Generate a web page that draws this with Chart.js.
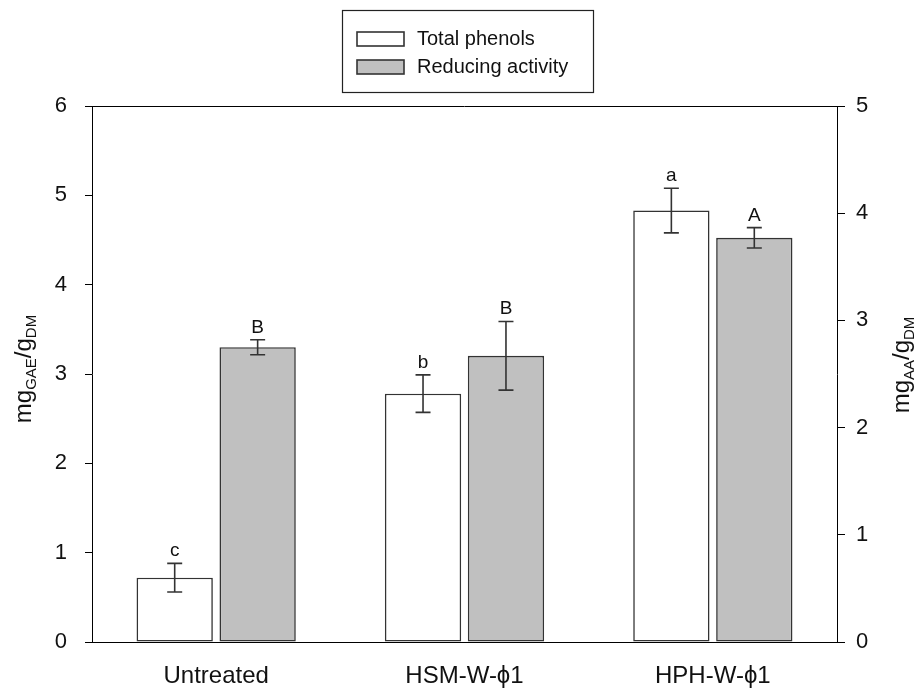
<!DOCTYPE html>
<html>
<head>
<meta charset="utf-8">
<script src="https://cdn.jsdelivr.net/npm/chart.js@4"></script>
<style>
  html, body { margin: 0; padding: 0; background: #fff; }
  #wrap { width: 919px; height: 689px; }
</style>
</head>
<body>
<div id="wrap"><canvas id="chart" width="919" height="689"></canvas></div>
<script>
// data
const categories = ['Untreated', 'HSM-W-\u03d51', 'HPH-W-\u03d51'];
const totalPhenols = [0.72, 2.78, 4.83];
const totalPhenolsErr = [0.16, 0.21, 0.25];
const phenolLetters = ['c', 'b', 'a'];
const reducingActivity = [2.75, 2.67, 3.77];
const reducingActivityErr = [0.07, 0.32, 0.095];
const activityLetters = ['B', 'B', 'A'];
const seriesNames = ['Total phenols', 'Reducing activity'];

const FONT = '"Liberation Sans", Arial, sans-serif';
Chart.defaults.font.family = FONT;
Chart.defaults.color = '#111';

// error bars + letters on top of each bar
const errorBars = {
  id: 'errorBars',
  afterDatasetsDraw(chart) {
    const ctx = chart.ctx;
    chart.data.datasets.forEach((ds, i) => {
      const meta = chart.getDatasetMeta(i);
      const scale = chart.scales[ds.yAxisID];
      meta.data.forEach((bar, j) => {
        const v = ds.data[j], e = ds.errors[j];
        const yTop = scale.getPixelForValue(v + e);
        const yBot = scale.getPixelForValue(v - e);
        const x = bar.x;
        ctx.save();
        ctx.strokeStyle = '#333';
        ctx.lineWidth = 1.6;
        ctx.beginPath();
        ctx.moveTo(x, yTop); ctx.lineTo(x, yBot);
        ctx.moveTo(x - 7.5, yTop); ctx.lineTo(x + 7.5, yTop);
        ctx.moveTo(x - 7.5, yBot); ctx.lineTo(x + 7.5, yBot);
        ctx.stroke();
        ctx.fillStyle = '#111';
        ctx.font = '19px ' + FONT;
        ctx.textAlign = 'center';
        ctx.textBaseline = 'alphabetic';
        ctx.fillText(ds.letters[j], x, yTop - 7);
        ctx.restore();
      });
    });
  }
};

// rotated axis titles with subscripts
function drawRotated(ctx, parts, x, cy) {
  ctx.save();
  ctx.translate(x, cy);
  ctx.rotate(-Math.PI / 2);
  ctx.fillStyle = '#111';
  ctx.textBaseline = 'alphabetic';
  ctx.textAlign = 'left';
  let total = 0;
  parts.forEach(p => {
    ctx.font = (p.sub ? 15 : 24) + 'px ' + FONT;
    p.w = ctx.measureText(p.t).width;
    total += p.w;
  });
  let pos = -total / 2;
  parts.forEach(p => {
    ctx.font = (p.sub ? 15 : 24) + 'px ' + FONT;
    ctx.fillText(p.t, pos, p.sub ? 5 : 0);
    pos += p.w;
  });
  ctx.restore();
}

const decorations = {
  id: 'decorations',
  afterDraw(chart) {
    const ctx = chart.ctx;
    const a = chart.chartArea;
    // top frame line
    ctx.save();
    ctx.strokeStyle = '#000';
    ctx.lineWidth = 1;
    ctx.beginPath();
    ctx.moveTo(a.left, a.top + 0.5);
    ctx.lineTo(a.right, a.top + 0.5);
    ctx.stroke();

    // legend box
    ctx.strokeStyle = '#222';
    ctx.lineWidth = 1.2;
    ctx.strokeRect(342.5, 10.5, 251, 82);
    chart.data.datasets.forEach((ds, i) => {
      const y = 39 + i * 28;
      ctx.fillStyle = ds.backgroundColor;
      ctx.fillRect(357, y - 7, 47, 14);
      ctx.strokeStyle = '#333';
      ctx.lineWidth = 1.6;
      ctx.strokeRect(357, y - 7, 47, 14);
      ctx.fillStyle = '#111';
      ctx.font = '20px ' + FONT;
      ctx.textBaseline = 'middle';
      ctx.textAlign = 'left';
      ctx.fillText(ds.label, 417, y);
    });
    ctx.restore();

    drawRotated(ctx, [{t: 'mg'}, {t: 'GAE', sub: true}, {t: '/g'}, {t: 'DM', sub: true}], 31, 369);
    drawRotated(ctx, [{t: 'mg'}, {t: 'AA', sub: true}, {t: '/g'}, {t: 'DM', sub: true}], 909, 365);
  }
};

const ctx = document.getElementById('chart');
new Chart(ctx, {
  type: 'bar',
  data: {
    labels: categories,
    datasets: [
      {
        label: seriesNames[0],
        data: totalPhenols,
        errors: totalPhenolsErr,
        letters: phenolLetters,
        yAxisID: 'y',
        backgroundColor: '#ffffff',
        borderColor: '#333',
        borderWidth: 1.6,
        borderSkipped: false,
        barPercentage: 0.92,
        categoryPercentage: 0.668,
      },
      {
        label: seriesNames[1],
        data: reducingActivity,
        errors: reducingActivityErr,
        letters: activityLetters,
        yAxisID: 'y2',
        backgroundColor: '#c0c0c0',
        borderColor: '#333',
        borderWidth: 1.6,
        borderSkipped: false,
        barPercentage: 0.92,
        categoryPercentage: 0.668,
      },
    ],
  },
  options: {
    responsive: false,
    animation: false,
    layout: { padding: { top: 106, left: 0, right: 0, bottom: 0 } },
    plugins: {
      legend: { display: false },
      tooltip: { enabled: false },
    },
    scales: {
      x: {
        grid: { display: false },
        border: { display: true, color: '#000', width: 1 },
        ticks: { font: { size: 24 }, color: '#111', padding: 12 },
        afterFit: s => { s.height = 47; },
      },
      y: {
        position: 'left',
        min: 0, max: 6,
        ticks: { stepSize: 1, font: { size: 22 }, color: '#111', padding: 18 },
        grid: { drawOnChartArea: false, drawTicks: true, tickLength: 7, color: '#000' },
        border: { display: true, color: '#000', width: 1 },
        afterFit: s => { s.width = 92; },
      },
      y2: {
        position: 'right',
        min: 0, max: 5,
        ticks: { stepSize: 1, font: { size: 22 }, color: '#111', padding: 11 },
        grid: { drawOnChartArea: false, drawTicks: true, tickLength: 8, color: '#000' },
        border: { display: true, color: '#000', width: 1 },
        afterFit: s => { s.width = 82; },
      },
    },
  },
  plugins: [errorBars, decorations],
});
</script>
</body>
</html>
